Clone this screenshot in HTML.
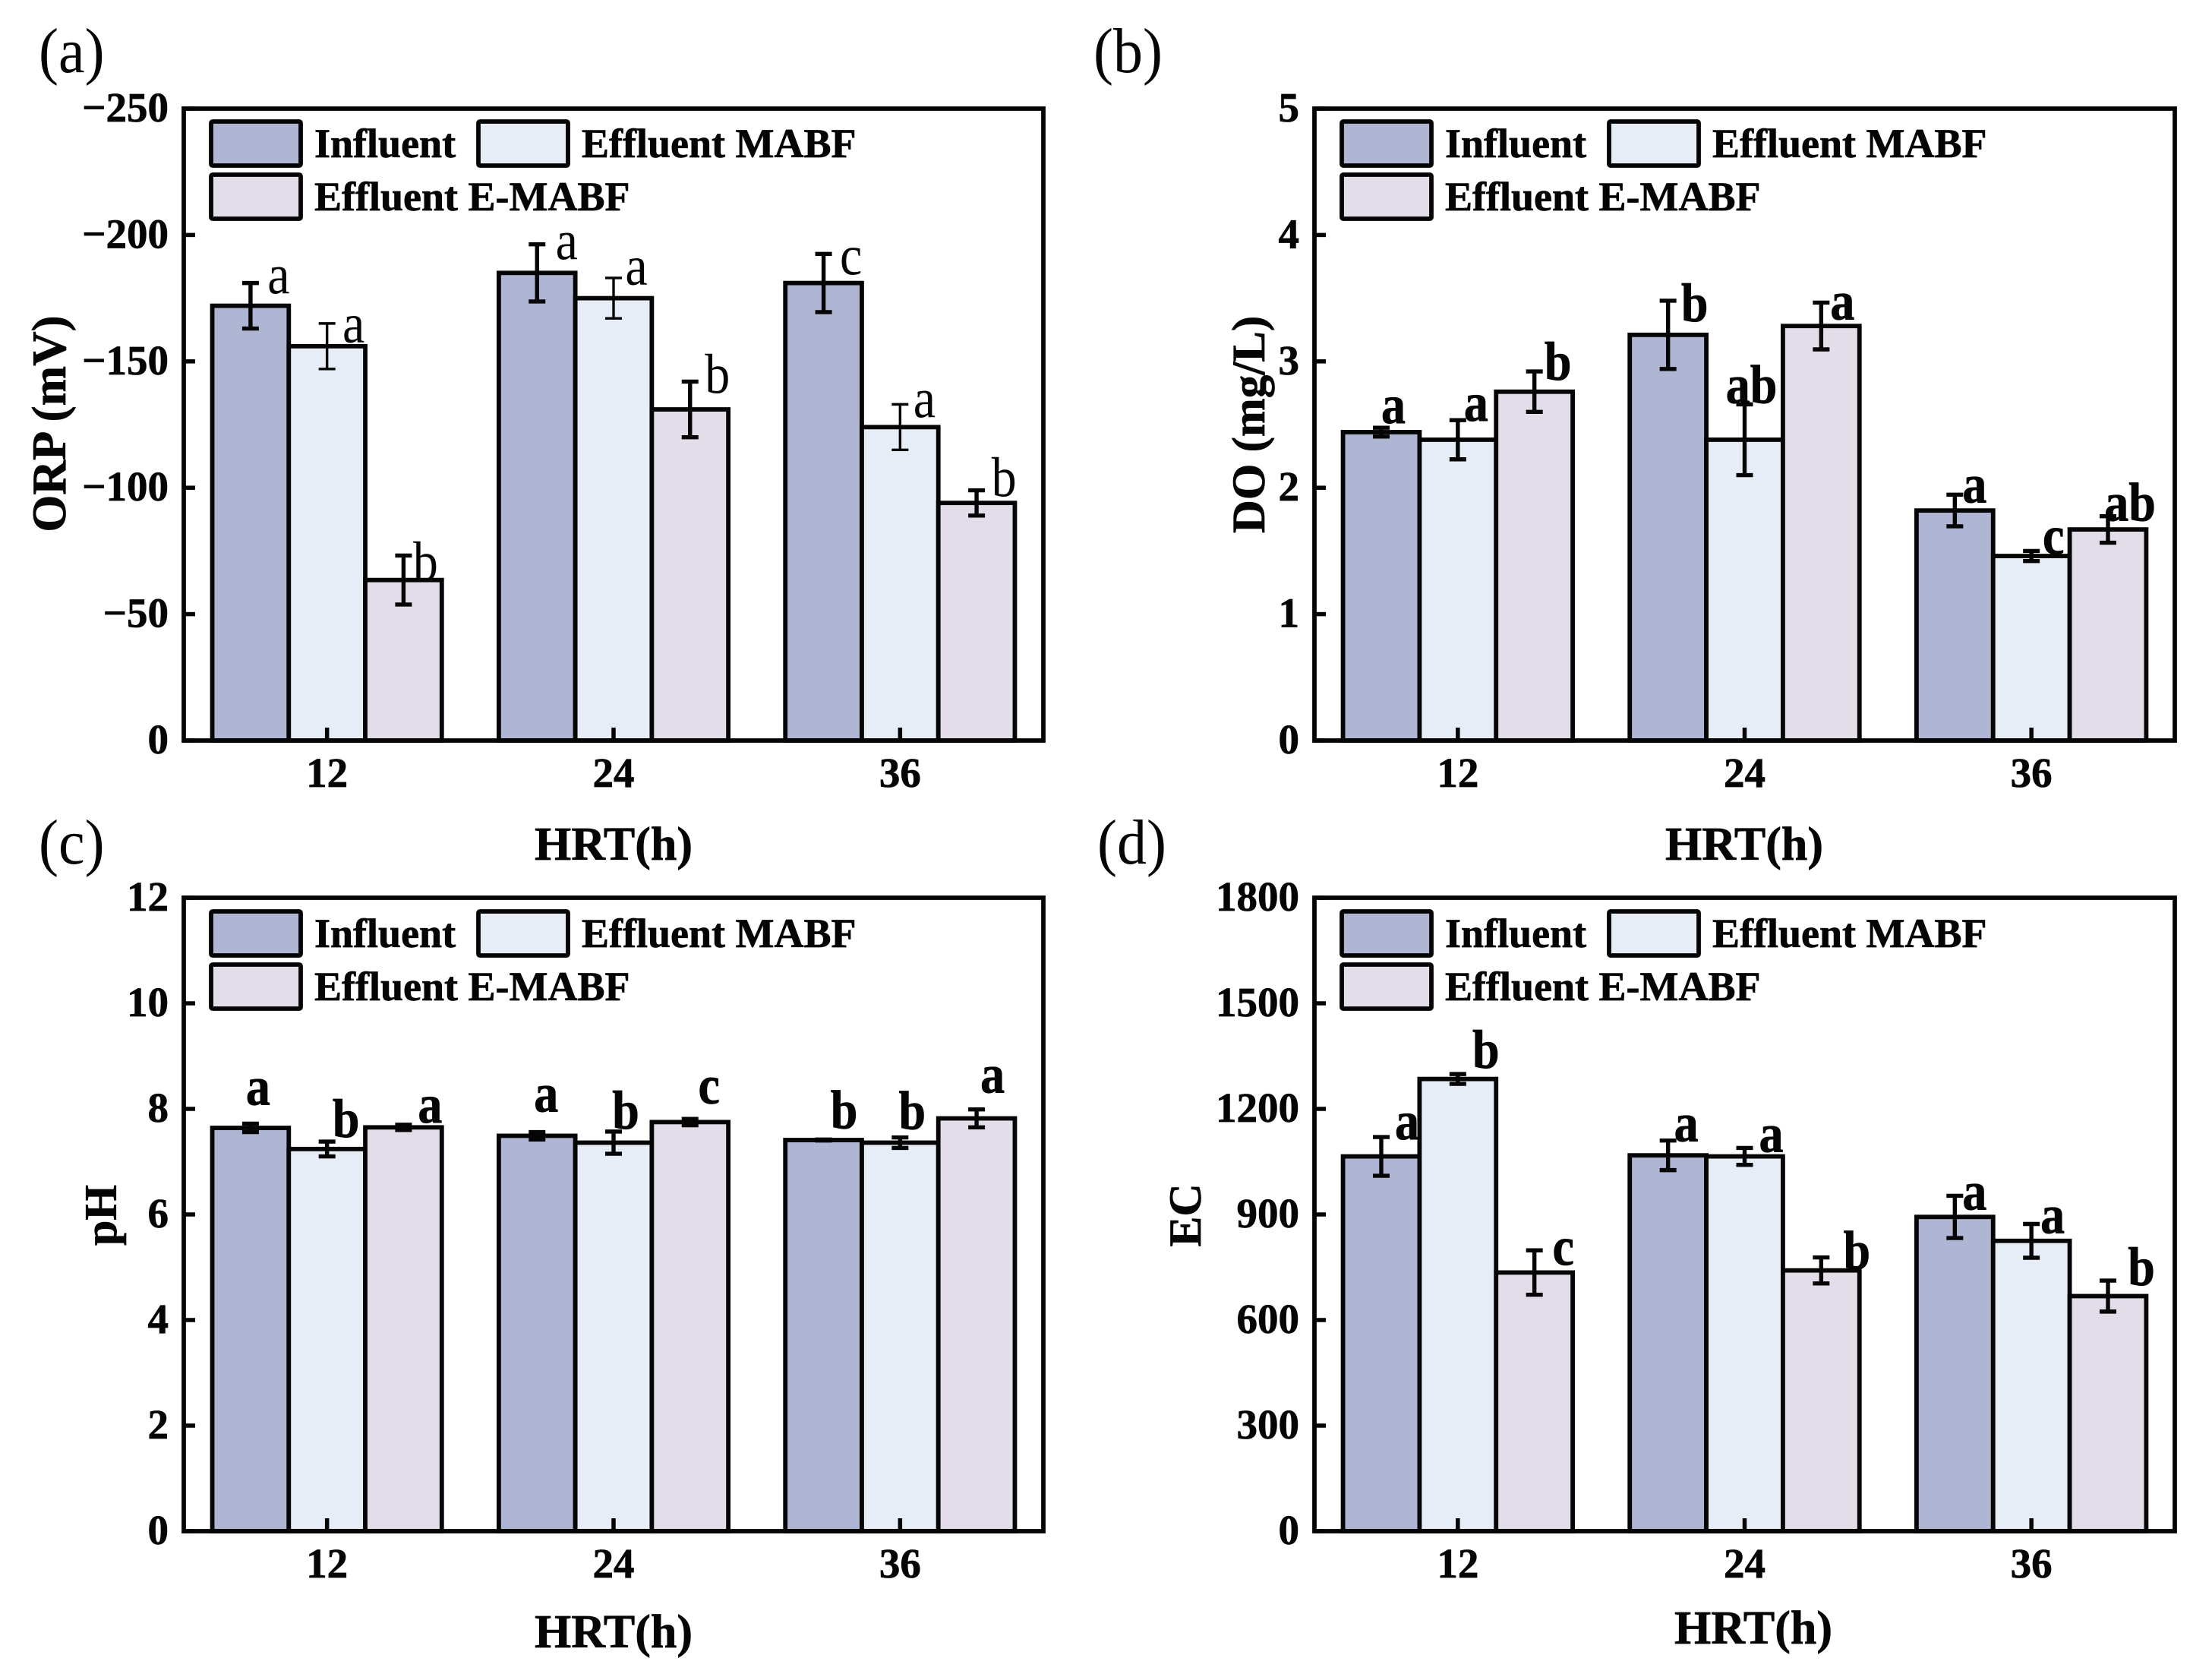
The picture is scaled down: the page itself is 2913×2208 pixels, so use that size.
<!DOCTYPE html>
<html lang="en">
<head>
<meta charset="utf-8">
<title>ORP, DO, pH and EC by HRT</title>
<style>
html,body{margin:0;padding:0;background:#fff;}
svg{display:block;}
text{font-family:"Liberation Serif",serif;fill:#050505;}
text[font-weight="bold"]{stroke:#050505;stroke-width:0.7px;}
</style>
</head>
<body>
<svg id="figure" xmlns="http://www.w3.org/2000/svg" width="2913" height="2208" viewBox="0 0 2913 2208"></svg>
<script>
const categories = ['12', '24', '36'];
const seriesNames = ['Influent', 'Effluent MABF', 'Effluent E-MABF'];

const orpTicks = [-250, -200, -150, -100, -50, 0];
const orpInfluent = [-172, -185, -181];
const orpMabf = [-156, -175, -124];
const orpEmabf = [-63.5, -131, -94];
const orpInfluentErr = [9, 11.3, 11.5];
const orpMabfErr = [9, 8, 9];
const orpEmabfErr = [9.7, 11, 5];
const orpLetters = ['a', 'a', 'b', 'a', 'a', 'b', 'c', 'a', 'b'];

const doTicks = [0, 1, 2, 3, 4, 5];
const doInfluent = [2.44, 3.21, 1.82];
const doMabf = [2.38, 2.38, 1.46];
const doEmabf = [2.76, 3.28, 1.67];
const doInfluentErr = [0.035, 0.27, 0.125];
const doMabfErr = [0.155, 0.28, 0.04];
const doEmabfErr = [0.16, 0.185, 0.105];
const doLetters = ['a', 'a', 'b', 'b', 'ab', 'a', 'a', 'c', 'ab'];

const phTicks = [0, 2, 4, 6, 8, 10, 12];
const phInfluent = [7.64, 7.49, 7.41];
const phMabf = [7.24, 7.36, 7.36];
const phEmabf = [7.65, 7.75, 7.82];
const phInfluentErr = [0.08, 0.07, 0.01];
const phMabfErr = [0.14, 0.21, 0.1];
const phEmabfErr = [0.05, 0.06, 0.17];
const phLetters = ['a', 'b', 'a', 'a', 'b', 'c', 'b', 'b', 'a'];

const ecTicks = [0, 300, 600, 900, 1200, 1500, 1800];
const ecInfluent = [1065, 1068, 893];
const ecMabf = [1285, 1065, 825];
const ecEmabf = [735, 741, 668];
const ecInfluentErr = [55, 42, 60];
const ecMabfErr = [14, 24, 48];
const ecEmabfErr = [63, 37, 44];
const ecLetters = ['a', 'b', 'c', 'a', 'a', 'b', 'a', 'a', 'b'];

/* layout only: where each significance letter sits relative to its error-bar cap */
const orpNudgeX = [37, 35, 29, 39, 30, 36, 36, 32, 36];
const orpNudgeY = [14, 25, 33, 20, 9, 15, 27, 17, 8];
const doNudgeX = [16, 24, 31, 35, 9, 28, 26, 29, 29];
const doNudgeY = [-6, 1, 11, 27, -2, 22, 10, 4, 6];
const phNudgeX = [10, 25, 35, 12, 16, 25, 27, 16, 21];
const phNudgeY = [-25, -6, -3, -27, -4, -20, -15, -11, -22];
const ecNudgeX = [34, 37, 38, 24, 35, 47, 26, 28, 44];
const ecNudgeY = [3, -8, 19, 1, 5, 15, 18, 12, 6];

const NS = 'http://www.w3.org/2000/svg';
const INK = '#050505';
const FILLS = ['#afb6d3', '#e6edf6', '#e3dce9'];
const figure = document.getElementById('figure');

function make(parent, tag, attrs, content) {
  const el = document.createElementNS(NS, tag);
  for (const key in attrs) el.setAttribute(key, attrs[key]);
  if (content !== undefined) el.textContent = content;
  parent.appendChild(el);
  return el;
}

function tickText(v) {
  return v < 0 ? '\u2212' + Math.abs(v) : String(v);
}

function drawPanel(cfg) {
  const g = make(figure, 'g', {});
  
  

  const L = cfg.left, R = cfg.right, T = cfg.top, B = cfg.bottom;
  const yMin = cfg.ticks[0], yMax = cfg.ticks[cfg.ticks.length - 1];
  const zero = yMin === 0 ? yMin : yMax;
  const far = yMin === 0 ? yMax : yMin;
  const yScale = v => B - (v - zero) / (far - zero) * (B - T);
  const band = (R - L) / categories.length;
  const xCenter = i => L + (i + 0.5) * band;
  const barW = band * 0.267;

  const panelLabel = make(g, 'text', {
    transform: 'translate(' + cfg.labelX + ' ' + cfg.labelY + ') scale(1 1.08)',
    'font-size': 78
  }, cfg.label);
  
  

  /* bars */
  cfg.values.forEach((vals, s) => {
    vals.forEach((v, i) => {
      const x = xCenter(i) + (s - 1) * barW - barW / 2;
      const bar = make(g, 'rect', {
        x: x, y: yScale(v), width: barW, height: yScale(zero) - yScale(v),
        fill: FILLS[s], stroke: INK, 'stroke-width': 5.8
      });
      
      
    });
  });

  /* error bars */
  cfg.values.forEach((vals, s) => {
    vals.forEach((v, i) => {
      const cx = xCenter(i) + (s - 1) * barW;
      const e = cfg.errors[s][i];
      const sign = far < 0 ? -1 : 1;
      const yTop = yScale(v + sign * e), yLow = yScale(v - sign * e);
      const sw = (cfg.id === 'orp' && s === 1) ? 3.4 : 5.4;
      const err = make(g, 'path', {
        d: 'M' + cx + ' ' + yTop + 'V' + yLow +
           'M' + (cx - 11) + ' ' + yTop + 'H' + (cx + 11) +
           'M' + (cx - 11) + ' ' + yLow + 'H' + (cx + 11),
        fill: 'none', stroke: INK, 'stroke-width': sw
      });
      
      

      const k = i * 3 + s;
      const letter = make(g, 'text', {
        transform: 'translate(' + (cx + cfg.nudgeX[k]) + ' ' + (yTop + cfg.nudgeY[k]) + ') scale(1 1.12)',
        'font-size': cfg.id === 'orp' ? 66 : 64,
        'font-weight': cfg.id === 'orp' ? 'normal' : 'bold',
        'text-anchor': 'middle'
      }, cfg.letters[k]);
      
      
    });
  });

  /* frame */
  const frame = make(g, 'rect', {x: L, y: T, width: R - L, height: B - T, fill: 'none', stroke: INK, 'stroke-width': 5.8});
  
  

  /* y axis */
  cfg.ticks.forEach(t => {
    const y = yScale(t);
    const tick = make(g, 'line', {x1: L, x2: L + 15, y1: y, y2: y, stroke: INK, 'stroke-width': 5.5});
    
    
    const label = make(g, 'text', {x: L - 20, y: y + 17, 'font-size': 55, 'font-weight': 'bold', 'text-anchor': 'end'}, tickText(t));
    
    
  });

  /* x axis */
  categories.forEach((c, i) => {
    const x = xCenter(i);
    const tick = make(g, 'line', {x1: x, x2: x, y1: B, y2: B - 17, stroke: INK, 'stroke-width': 5.5});
    
    
    const label = make(g, 'text', {x: x, y: B + 61, 'font-size': 55, 'font-weight': 'bold', 'text-anchor': 'middle'}, c);
    
    
  });

  /* axis titles */
  const xTitle = make(g, 'text', {x: cfg.xTitleX, y: cfg.xTitleY, 'font-size': 62, 'font-weight': 'bold', 'text-anchor': 'middle'}, 'HRT(h)');
  
  
  const yTitle = make(g, 'text', {
    transform: 'translate(' + cfg.yTitleX + ' ' + cfg.yTitleY + ') rotate(-90)',
    'font-size': cfg.yTitleSize, 'font-weight': 'bold', 'text-anchor': 'middle'
  }, cfg.yTitle);
  
  

  /* legend */
  const legend = make(g, 'g', {});
  
  
  const col2 = 352;
  const row2 = 70;
  seriesNames.forEach((name, s) => {
    const ox = L + 36 + (s === 1 ? col2 : 0);
    const oy = T + 17 + cfg.legendDy + (s === 2 ? row2 : 0);
    const swatch = make(legend, 'rect', {x: ox, y: oy, width: 118, height: 58, rx: 2, fill: FILLS[s], stroke: INK, 'stroke-width': 5.8});
    
    
    const text = make(legend, 'text', {x: ox + 136, y: oy + 47, 'font-size': 54, 'font-weight': 'bold'}, name);
    
    
  });
}

drawPanel({
  id: 'orp', label: '(a)', labelX: 51, labelY: 95,
  left: 242, right: 1374, top: 143, bottom: 975, legendDy: 0,
  ticks: orpTicks, yTitle: 'ORP (mV)', yTitleSize: 63, yTitleX: 86, yTitleY: 558,
  xTitleX: 808, xTitleY: 1132,
  values: [orpInfluent, orpMabf, orpEmabf],
  errors: [orpInfluentErr, orpMabfErr, orpEmabfErr],
  letters: orpLetters, nudgeX: orpNudgeX, nudgeY: orpNudgeY
});
drawPanel({
  id: 'do', label: '(b)', labelX: 1440, labelY: 95,
  left: 1731, right: 2864, top: 143, bottom: 975, legendDy: 0,
  ticks: doTicks, yTitle: 'DO (mg/L)', yTitleSize: 61, yTitleX: 1665, yTitleY: 559,
  xTitleX: 2297, xTitleY: 1132,
  values: [doInfluent, doMabf, doEmabf],
  errors: [doInfluentErr, doMabfErr, doEmabfErr],
  letters: doLetters, nudgeX: doNudgeX, nudgeY: doNudgeY
});
drawPanel({
  id: 'ph', label: '(c)', labelX: 51, labelY: 1137,
  left: 242, right: 1374, top: 1182, bottom: 2016, legendDy: 1,
  ticks: phTicks, yTitle: 'pH', yTitleSize: 60, yTitleX: 153, yTitleY: 1600,
  xTitleX: 808, xTitleY: 2169,
  values: [phInfluent, phMabf, phEmabf],
  errors: [phInfluentErr, phMabfErr, phEmabfErr],
  letters: phLetters, nudgeX: phNudgeX, nudgeY: phNudgeY
});
drawPanel({
  id: 'ec', label: '(d)', labelX: 1445, labelY: 1137,
  left: 1731, right: 2864, top: 1182, bottom: 2016, legendDy: 1,
  ticks: ecTicks, yTitle: 'EC', yTitleSize: 60, yTitleX: 1581, yTitleY: 1600,
  xTitleX: 2309, xTitleY: 2164,
  values: [ecInfluent, ecMabf, ecEmabf],
  errors: [ecInfluentErr, ecMabfErr, ecEmabfErr],
  letters: ecLetters, nudgeX: ecNudgeX, nudgeY: ecNudgeY
});
</script>
</body>
</html>
